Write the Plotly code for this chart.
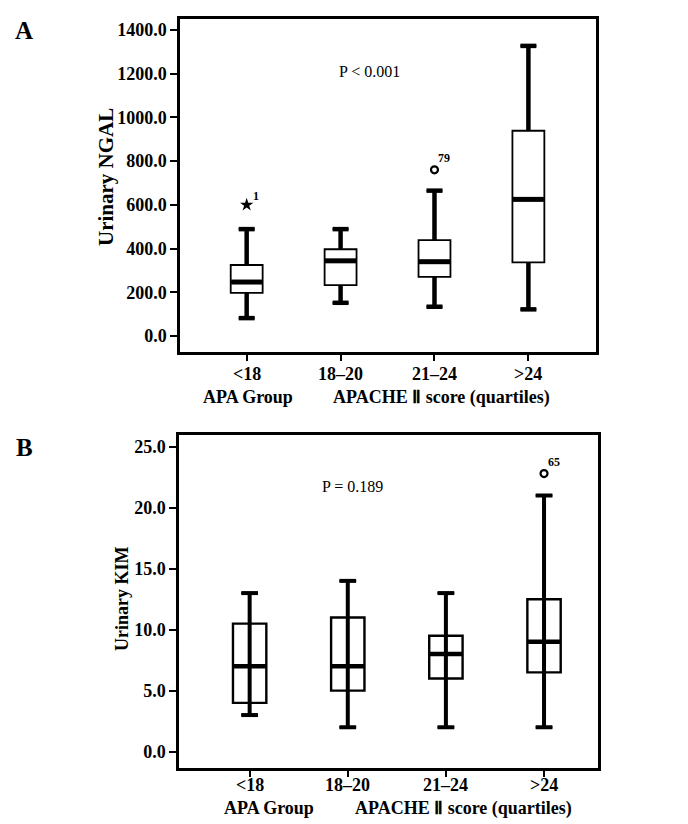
import plotly.graph_objects as go

# ---------------- data ----------------
categories = ["<18", "18–20", "21–24", ">24"]

# Panel A: Urinary NGAL
ngal_lower = [82, 152, 134, 122]
ngal_q1 = [197, 233, 271, 337]
ngal_median = [247, 344, 340, 625]
ngal_q3 = [325, 397, 439, 939]
ngal_upper = [489, 489, 665, 1327]
ngal_out_x = [0, 2]
ngal_out_y = [600, 760]
ngal_out_label = ["1", "79"]
ngal_out_symbol = ["star", "circle-open"]

# Panel B: Urinary KIM
kim_lower = [3, 2, 2, 2]
kim_q1 = [4, 5, 6, 6.5]
kim_median = [7, 7, 8, 9]
kim_q3 = [10.5, 11, 9.5, 12.5]
kim_upper = [13, 14, 13, 21]
kim_out_x = [3]
kim_out_y = [22.8]
kim_out_label = ["65"]
kim_out_symbol = ["circle-open"]

# ---------------- layout geometry ----------------
W, H = 688, 824
L, R, T, B = 179, 90, 19, 56
PW = W - L - R
PH = H - T - B

def px_x(p):
    return (p - L) / PW

def px_y(p):
    return (H - B - p) / PH

FONT = "Liberation Serif, Times New Roman, serif"
BOXW = 0.34
CAP = BOXW * 0.25

fig = go.Figure()

def add_panel(xa, ya, lower, q1, med, q3, upper, through):
    xs = list(range(len(categories)))
    fig.add_trace(go.Box(
        x=xs, q1=q1, median=med, q3=q3, lowerfence=lower, upperfence=upper,
        width=BOXW, whiskerwidth=0.5, fillcolor="white",
        line=dict(color="black", width=1.8 if not through else 2.4),
        boxpoints=False, xaxis=xa, yaxis=ya, showlegend=False, hoverinfo="skip"))
    lx, ly = [], []
    for i in xs:
        if through:
            lx += [i, i, None]; ly += [lower[i], upper[i], None]
        else:
            lx += [i, i, None, i, i, None]
            ly += [q3[i], upper[i], None, q1[i], lower[i], None]
        lx += [i - CAP, i + CAP, None, i - CAP, i + CAP, None]
        ly += [upper[i], upper[i], None, lower[i], lower[i], None]
    fig.add_trace(go.Scatter(x=lx, y=ly, mode="lines",
                             line=dict(color="black", width=4.5 if not through else 4),
                             xaxis=xa, yaxis=ya, showlegend=False, hoverinfo="skip"))
    mx, my = [], []
    for i in xs:
        mx += [i - BOXW / 2 + 0.005, i + BOXW / 2 - 0.005, None]
        my += [med[i], med[i], None]
    fig.add_trace(go.Scatter(x=mx, y=my, mode="lines",
                             line=dict(color="black", width=5 if not through else 4.5),
                             xaxis=xa, yaxis=ya, showlegend=False, hoverinfo="skip"))

def add_outliers(xa, ya, ox, oy, labels, symbols):
    for x, y, lab, sym in zip(ox, oy, labels, symbols):
        if sym == "star":
            fig.add_trace(go.Scatter(x=[x], y=[y], mode="markers",
                                     marker=dict(symbol="star", size=10, color="black",
                                                 line=dict(width=0)),
                                     xaxis=xa, yaxis=ya, showlegend=False, hoverinfo="skip"))
            dx, dy = 9, 9
        else:
            fig.add_trace(go.Scatter(x=[x], y=[y], mode="markers",
                                     marker=dict(symbol="circle-open", size=7, color="black",
                                                 line=dict(width=2.2)),
                                     xaxis=xa, yaxis=ya, showlegend=False, hoverinfo="skip"))
            dx, dy = 10, 12
        fig.add_annotation(x=x, y=y, xref=xa, yref=ya, text=f"<b>{lab}</b>",
                           showarrow=False, xshift=dx, yshift=dy,
                           font=dict(family=FONT, size=12, color="black"))

add_panel("x", "y", ngal_lower, ngal_q1, ngal_median, ngal_q3, ngal_upper, False)
add_outliers("x", "y", ngal_out_x, ngal_out_y, ngal_out_label, ngal_out_symbol)
add_panel("x2", "y2", kim_lower, kim_q1, kim_median, kim_q3, kim_upper, True)
add_outliers("x2", "y2", kim_out_x, kim_out_y, kim_out_label, kim_out_symbol)

axis_common = dict(showline=True, linecolor="black", linewidth=2.5, mirror=True,
                   showgrid=False, zeroline=False, ticks="outside", tickcolor="black",
                   tickwidth=1.5, tickfont=dict(family=FONT, size=18, color="black"))

fig.update_layout(
    width=W, height=H, margin=dict(l=L, r=R, t=T, b=B),
    paper_bgcolor="white", plot_bgcolor="white", showlegend=False,
    xaxis=dict(**axis_common, domain=[px_x(180), px_x(596)], range=[-0.71, 3.72],
               tickvals=list(range(4)), showticklabels=False,
               ticklen=6, anchor="y"),
    yaxis=dict(**axis_common, domain=[px_y(352), px_y(19)], range=[-73, 1450],
               tickvals=list(range(0, 1401, 200)),
               ticktext=[f"<b>{v:.1f}</b>" for v in range(0, 1401, 200)],
               ticklen=7, anchor="x"),
    xaxis2=dict(**axis_common, domain=[px_x(179), px_x(598)], range=[-0.72, 3.55],
                tickvals=list(range(4)), showticklabels=False,
                ticklen=6, anchor="y2"),
    yaxis2=dict(**axis_common, domain=[px_y(768), px_y(435)], range=[-1.34, 25.96],
                tickvals=[0, 5, 10, 15, 20, 25],
                ticktext=[f"<b>{v:.1f}</b>" for v in [0, 5, 10, 15, 20, 25]],
                ticklen=7, anchor="x2"),
)

# category labels below each x axis
for xa, ypx in (("x", 374), ("x2", 785)):
    for i, c in enumerate(categories):
        fig.add_annotation(x=i, y=px_y(ypx), xref=xa, yref="paper", text=f"<b>{c}</b>",
                           showarrow=False, xanchor="center", yanchor="middle",
                           font=dict(family=FONT, size=18, color="black"))

def paper_text(text, x, y, size, bold=True, angle=0):
    fig.add_annotation(x=px_x(x), y=px_y(y), xref="paper", yref="paper",
                       text=f"<b>{text}</b>" if bold else text, showarrow=False,
                       textangle=angle, xanchor="center", yanchor="middle",
                       font=dict(family=FONT, size=size, color="black"))

paper_text("A", 24, 31, 25)
paper_text("B", 24, 447, 25)
paper_text("Urinary NGAL", 106, 177, 21, angle=-90)
paper_text("Urinary KIM", 122, 599, 18, angle=-90)
paper_text("P &lt; 0.001", 369, 72, 16, bold=False)
paper_text("P = 0.189", 352, 487, 16, bold=False)
paper_text("APA Group", 248, 397, 18)
paper_text("APACHE Ⅱ score (quartiles)", 441, 397, 18)
paper_text("APA Group", 269, 808, 18)
paper_text("APACHE Ⅱ score (quartiles)", 463, 808, 18)

fig.write_html("out.html", config={"displayModeBar": False},
               post_script="document.body.style.margin='0px';")
